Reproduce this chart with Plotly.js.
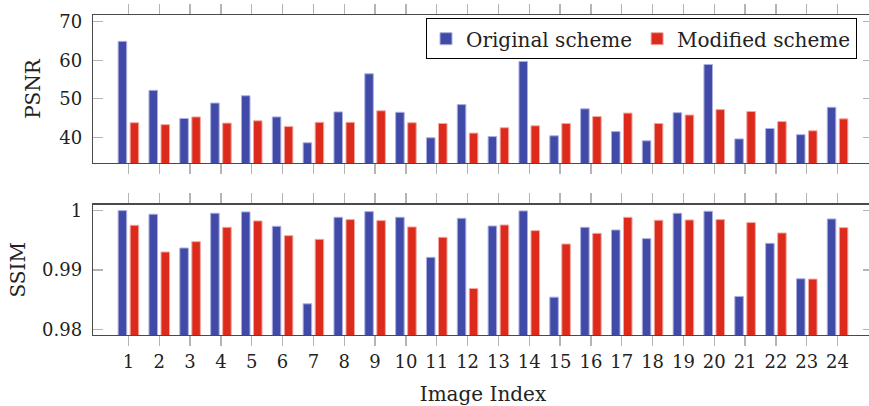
<!DOCTYPE html>
<html>
<head>
<meta charset="utf-8">
<script src="https://cdn.plot.ly/plotly-3.0.1.min.js"></script>
<style>
html,body{margin:0;padding:0;overflow:hidden;background:#fff;}
#chart{width:876px;height:406px;}
</style>
</head>
<body>
<div id="chart"></div>
<script>
const imageIndex = [1,2,3,4,5,6,7,8,9,10,11,12,13,14,15,16,17,18,19,20,21,22,23,24];
const psnrOriginal = [64.9,52.2,44.9,48.9,50.8,45.3,38.6,46.6,56.5,46.5,39.9,48.5,40.2,59.7,40.4,47.4,41.5,39.1,46.4,58.9,39.6,42.3,40.7,47.8];
const psnrModified = [43.8,43.3,45.3,43.7,44.3,42.8,43.9,43.9,46.9,43.8,43.6,41.1,42.5,43.0,43.6,45.4,46.3,43.6,45.8,47.2,46.7,44.1,41.7,44.8];
const ssimOriginal = [0.99997,0.99936,0.99370,0.99953,0.99975,0.99734,0.98434,0.99885,0.99980,0.99885,0.99213,0.99868,0.99739,0.99992,0.98546,0.99717,0.99672,0.99527,0.99953,0.99986,0.98558,0.99448,0.98854,0.99857];
const ssimModified = [0.99751,0.99303,0.99476,0.99717,0.99824,0.99577,0.99515,0.99846,0.99829,0.99723,0.99549,0.98692,0.99756,0.99661,0.99437,0.99616,0.99885,0.99835,0.99840,0.99846,0.99796,0.99622,0.98849,0.99711];
const psnrTicks = [40,50,60,70];
const ssimTicks = [0.98,0.99,1];
const ssimTickText = ['0.98','0.99','1'];
const seriesNames = ['Original scheme','Modified scheme'];

const blue = '#414aa7', blueEdge = '#aab0e2';
const red = '#dc2b1d', redEdge = '#f3a79f';
const serif = 'DejaVu Serif';
const ink = '#222';

function bar(x, y, name, color, edge, xa, ya, show){
  return {type:'bar', x:x, y:y, name:name, legendgroup:name, showlegend:show,
    xaxis:xa, yaxis:ya, marker:{color:color, line:{color:edge, width:1}}};
}

const data = [
  bar(imageIndex, psnrOriginal, seriesNames[0], blue, blueEdge, 'x', 'y', true),
  bar(imageIndex, psnrModified, seriesNames[1], red, redEdge, 'x', 'y', true),
  bar(imageIndex, ssimOriginal, seriesNames[0], blue, blueEdge, 'x2', 'y2', false),
  bar(imageIndex, ssimModified, seriesNames[1], red, redEdge, 'x2', 'y2', false)
];

const axisLine = '#4a4a4a', tickCol = '#b4b4b4';
const xCommon = {range:[-0.149, 25.149], tickvals:imageIndex, ticktext:imageIndex.map(String),
  showline:true, linecolor:axisLine, linewidth:1.3, mirror:'ticks', ticks:'outside', ticklen:10,
  tickcolor:tickCol, tickwidth:1.3, showgrid:false, zeroline:false, fixedrange:true,
  tickfont:{family:serif, size:18, color:ink}};
const yCommon = {showline:true, linecolor:axisLine, linewidth:1.3, mirror:'ticks', ticks:'inside', ticklen:10,
  tickcolor:tickCol, tickwidth:1.3, showgrid:false, zeroline:false, ticklabelstandoff:6,
  tickfont:{family:serif, size:18, color:ink}};

const layout = {
  width:876, height:406,
  margin:{l:93, r:3, t:15, b:71},
  paper_bgcolor:'#fff', plot_bgcolor:'#fff',
  barmode:'group', bargap:0.22, bargroupgap:0.29,
  font:{family:serif, color:ink},
  xaxis:Object.assign({}, xCommon, {anchor:'y', showticklabels:false}),
  yaxis:Object.assign({}, yCommon, {domain:[0.5375,1], range:[33.35,71.74], tickvals:psnrTicks,
    title:{text:'PSNR', font:{family:serif, size:20, color:ink}, standoff:13}}),
  xaxis2:Object.assign({}, xCommon, {anchor:'y2', matches:'x',
    title:{text:'Image Index', font:{family:serif, size:20, color:ink}, standoff:18}}),
  yaxis2:Object.assign({}, yCommon, {domain:[0,0.4072], range:[0.97911,1.00096], tickvals:ssimTicks, ticktext:ssimTickText,
    title:{text:'SSIM', font:{family:serif, size:20, color:ink}, standoff:11}}),
  legend:{orientation:'h', x:0.9795, xanchor:'right', y:0.99, yanchor:'top',
    bgcolor:'#fff', bordercolor:'#000', borderwidth:1,
    font:{family:serif, size:20, color:ink}, itemwidth:30, tracegroupgap:0}
};

Plotly.newPlot('chart', data, layout, {displayModeBar:false, staticPlot:true});
</script>
</body>
</html>
